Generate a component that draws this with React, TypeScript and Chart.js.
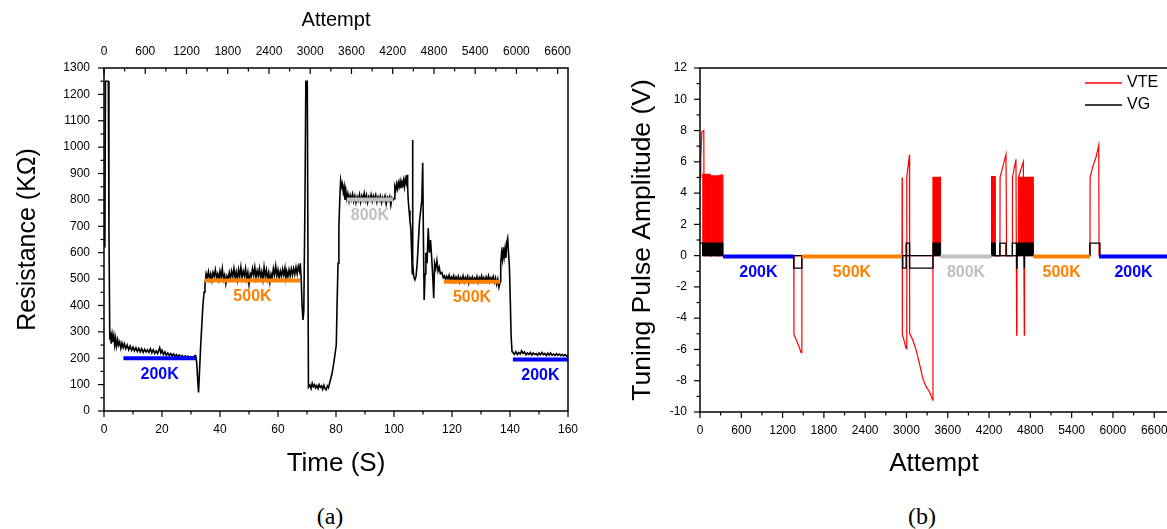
import React, { useEffect, useRef } from "react";
import { Chart, registerables } from "chart.js";

Chart.register(...registerables);

const SANS = "'Liberation Sans', Arial, Helvetica, sans-serif";
const SERIF = "'Liberation Serif', 'Times New Roman', serif";

// ---------------- Panel (a): resistance vs time ----------------
const timeResistance: [number, number][] = [
  [0.3, 620], [0.5, 1250], [1.5, 1250], [1.7, 700], [2.0, 270], [2.2, 300], [2.5, 255], [2.8, 290],
  [3.1, 262], [3.4, 285], [3.7, 250], [4.0, 275], [4.3, 245], [4.7, 270], [5.0, 250], [5.4, 262],
  [5.8, 238], [6.2, 258], [6.6, 240], [7.0, 255], [7.5, 236], [8.0, 250], [8.5, 232], [9.0, 246],
  [9.5, 230], [10, 242], [10.5, 228], [11, 240], [11.5, 226], [12, 238], [12.5, 224], [13, 236],
  [13.5, 222], [14, 234], [14.5, 224], [15, 232], [15.5, 222], [16, 236], [16.5, 220], [17, 232],
  [17.5, 218], [18, 228], [18.5, 218], [19.2, 240], [19.6, 220], [20, 230], [20.5, 214], [21, 224],
  [21.5, 212], [22, 220], [22.5, 210], [23, 218], [23.5, 209], [24, 216], [24.5, 207], [25, 214],
  [25.5, 206], [26, 212], [26.5, 205], [27, 210], [27.5, 204], [28, 209], [28.5, 203], [29, 208],
  [29.5, 202], [30, 206], [30.5, 202], [31, 206], [31.4, 210], [31.7, 205], [32.0, 180], [32.3, 120],
  [32.6, 70], [32.9, 140], [33.3, 240], [33.7, 320], [34.1, 400], [34.5, 450], [34.8, 475], [35.2, 520],
  [35.6, 505], [36.0, 528], [36.4, 500], [36.8, 520], [37.2, 495], [37.6, 525], [38.0, 510], [38.4, 535],
  [38.8, 505], [39.2, 520], [39.6, 498], [40.0, 530], [40.4, 506], [40.8, 540], [41.2, 498], [41.6, 515],
  [42.0, 482], [42.4, 512], [42.8, 500], [43.2, 525], [43.6, 502], [44.0, 530], [44.4, 510], [44.8, 540],
  [45.2, 505], [45.6, 528], [46.0, 498], [46.4, 535], [46.8, 510], [47.2, 545], [47.6, 505], [48.0, 530],
  [48.4, 512], [48.8, 540], [49.2, 500], [49.6, 525], [50.0, 480], [50.4, 520], [50.8, 510], [51.2, 540],
  [51.6, 515], [52.0, 545], [52.4, 505], [52.8, 532], [53.2, 512], [53.6, 540], [54.0, 505], [54.4, 528],
  [54.8, 498], [55.2, 545], [55.6, 510], [56.0, 535], [56.4, 500], [56.8, 525], [57.2, 488], [57.6, 520],
  [58.0, 505], [58.4, 540], [58.8, 515], [59.2, 550], [59.6, 512], [60.0, 535], [60.4, 505], [60.8, 530],
  [61.2, 510], [61.6, 538], [62.0, 515], [62.4, 542], [62.7, 505], [63.0, 530], [63.4, 508], [63.8, 535],
  [64.2, 512], [64.6, 538], [65.0, 515], [65.4, 540], [65.8, 518], [66.2, 545], [66.6, 520], [67.0, 548],
  [67.4, 530], [67.7, 560], [68.0, 500], [68.3, 400], [68.6, 345], [68.9, 380], [69.3, 800], [69.6, 1250],
  [70.1, 1250], [70.5, 90], [71.0, 98], [71.4, 85], [71.8, 105], [72.2, 92], [72.6, 100], [73.0, 88],
  [73.4, 96], [73.8, 85], [74.2, 100], [74.6, 90], [75.0, 95], [75.4, 82], [75.8, 98], [76.2, 85],
  [76.6, 80], [77.0, 95], [77.4, 88], [77.9, 110], [78.6, 140], [79.2, 180], [79.6, 210], [80.1, 250],
  [80.4, 420], [80.7, 560], [81.0, 700], [81.3, 800], [81.6, 875], [82.0, 850], [82.2, 860], [82.5, 830],
  [82.8, 850], [83.1, 800], [83.4, 835], [83.7, 805], [84.1, 825], [84.5, 795], [84.9, 818], [85.3, 800],
  [85.7, 822], [86.1, 795], [86.5, 815], [86.9, 790], [87.3, 812], [87.7, 798], [88.1, 820], [88.5, 792],
  [88.9, 815], [89.3, 800], [89.7, 825], [90.1, 798], [90.5, 818], [90.9, 790], [91.3, 812], [91.7, 800],
  [92.1, 820], [92.5, 795], [92.9, 815], [93.3, 800], [93.7, 818], [94.1, 792], [94.5, 812], [94.9, 798],
  [95.3, 815], [95.7, 790], [96.1, 810], [96.5, 798], [96.9, 815], [97.3, 785], [97.7, 810], [98.1, 798],
  [98.5, 812], [98.9, 780], [99.3, 808], [99.7, 800], [100.0, 805], [100.3, 850], [100.6, 838], [100.9, 860],
  [101.2, 842], [101.5, 865], [101.8, 850], [102.1, 870], [102.4, 845], [102.7, 868], [103.0, 855], [103.3, 875],
  [103.6, 850], [103.9, 880], [104.2, 865], [104.5, 895], [104.7, 850], [104.9, 800], [105.2, 760], [105.5, 720],
  [105.8, 690], [106.1, 600], [106.3, 520], [106.4, 1027], [106.5, 560], [106.8, 510], [107.2, 497], [107.6, 510],
  [108.0, 560], [108.4, 640], [108.8, 720], [109.2, 760], [109.6, 800], [109.9, 941], [110.2, 600], [110.4, 421],
  [110.7, 520], [111.0, 600], [111.4, 560], [111.8, 693], [112.2, 600], [112.6, 648], [113.0, 580], [113.4, 500],
  [113.7, 427], [114.0, 560], [114.4, 540], [114.8, 570], [115.2, 530], [115.6, 545], [116.0, 520], [116.5, 525],
  [117.0, 505], [117.4, 512], [117.8, 498], [118.2, 510], [118.6, 500], [119.0, 515], [119.4, 495], [119.8, 508],
  [120.2, 498], [120.6, 512], [121.0, 492], [121.4, 508], [121.8, 497], [122.2, 510], [122.6, 488], [123.0, 505],
  [123.4, 495], [123.8, 512], [124.2, 490], [124.6, 506], [125.0, 496], [125.4, 510], [125.8, 485], [126.2, 505],
  [126.6, 494], [127.0, 508], [127.4, 490], [127.8, 504], [128.2, 495], [128.6, 510], [129.0, 488], [129.4, 506],
  [129.8, 495], [130.2, 512], [130.6, 492], [131.0, 505], [131.4, 490], [131.8, 508], [132.2, 495], [132.6, 512],
  [133.0, 490], [133.4, 505], [133.8, 497], [134.2, 510], [134.6, 488], [135.0, 505], [135.4, 480], [135.8, 500],
  [136.2, 470], [136.6, 490], [136.8, 560], [137.1, 600], [137.4, 575], [137.7, 620], [138.0, 585], [138.3, 615],
  [138.6, 580], [138.9, 640], [139.2, 655], [139.5, 600], [139.8, 545], [140.1, 420], [140.4, 280], [140.7, 225],
  [141.0, 222], [141.5, 215], [142.0, 225], [142.5, 214], [143.0, 222], [143.5, 216], [144.0, 228], [144.5, 218],
  [145.0, 224], [145.5, 213], [146.0, 220], [146.5, 214], [147.0, 222], [147.5, 212], [148.0, 220], [148.5, 214],
  [149.0, 218], [149.5, 211], [150.0, 220], [150.5, 213], [151.0, 222], [151.5, 214], [152.0, 218], [152.5, 210],
  [153.0, 219], [153.5, 212], [154.0, 220], [154.5, 211], [155.0, 216], [155.5, 210], [156.0, 218], [156.5, 211],
  [157.0, 216], [157.5, 210], [158.0, 215], [158.5, 209], [159.0, 214], [159.5, 208], [160.0, 213],
];

const targetLevelsA = [
  { label: "200K", start: 6.7, end: 31.7, value: 200 },
  { label: "500K", start: 34.8, end: 67.6, value: 495 },
  { label: "800K", start: 83.7, end: 99.7, value: 802 },
  { label: "500K", start: 117.2, end: 136.6, value: 490 },
  { label: "200K", start: 141, end: 160, value: 195 },
];

const timeTickLabels = [0, 20, 40, 60, 80, 100, 120, 140, 160];
const attemptTickLabels = [0, 600, 1200, 1800, 2400, 3000, 3600, 4200, 4800, 5400, 6000, 6600];
const resistanceTickLabels = [0, 100, 200, 300, 400, 500, 600, 700, 800, 900, 1000, 1100, 1200, 1300];

// ---------------- Panel (b): tuning pulse amplitude vs attempt ----------------
const seriesNames = ["VTE", "VG"];

const vteTrace: [number, number][] = [
  [7, 5.0], [12, 6.2], [27, 7.9], [55, 8.0], [61, 0],
  [1363, 0], [1365, -5.05], [1420, -5.6], [1470, -6.2], [1480, 0],
  [2935, 0], [2937, 5.0], [2940, -5.05], [2957, -5.3], [2996, -5.95], [3005, 5.05], [3043, 6.45],
  [3046, -4.97], [3092, -5.4], [3140, -6.04], [3188, -6.89], [3237, -7.85], [3285, -8.38],
  [3334, -8.7], [3382, -9.24], [3385, 0],
  [4358, 0], [4360, 5.0], [4446, 6.47], [4455, 0],
  [4538, 0], [4540, 5.0], [4591, 6.16], [4601, -5.08], [4605, 0],
  [4625, 0], [4627, 5.0], [4698, 6.0], [4712, -5.08], [4716, 0],
  [5666, 0], [5668, 5.0], [5707, 5.69], [5756, 6.33], [5794, 7.07], [5798, 0],
  [6800, 0],
];
// dense pulse trains: [first attempt, last attempt, pulse amplitude]
const vtePulseTrains: [number, number, number][] = [
  [41, 148, 5.2], [162, 235, 5.1], [244, 283, 5.1], [293, 332, 5.15],
  [3385, 3494, 5.0], [4237, 4290, 5.05], [4645, 4695, 5.0], [4716, 4843, 5.0],
];

const vgTrace: [number, number][] = [
  [0, 0.8], [41, 0.8], [41, 0], [332, 0],
  [1363, 0], [1363, -0.8], [1480, -0.8], [1480, 0],
  [2946, 0], [2946, -0.8], [2995, -0.8], [2995, 0.8], [3045, 0.8], [3045, -0.8], [3385, -0.8], [3385, 0],
  [4290, 0], [4358, 0], [4358, 0.8], [4446, 0.8], [4446, 0], [4538, 0], [4538, 0.8], [4601, 0.8],
  [4601, -0.8], [4606, -0.8], [4606, 0], [4712, 0], [4712, -0.8], [4716, -0.8], [4716, 0],
  [5666, 0], [5666, 0.8], [5811, 0.8], [5811, 0], [6800, 0],
];
const vgPulseTrains: [number, number, number][] = [
  [41, 80, 0.8], [90, 148, 0.8], [162, 225, 0.8], [235, 273, 0.8], [283, 332, 0.8],
  [3385, 3494, 0.8], [4237, 4290, 0.8], [4606, 4712, 0.8], [4716, 4843, 0.8],
];

const targetLevelsB = [
  { label: "200K", start: 335, end: 1363, value: -0.05 },
  { label: "500K", start: 1480, end: 2937, value: -0.05 },
  { label: "800K", start: 3494, end: 4237, value: -0.05 },
  { label: "500K", start: 4843, end: 5666, value: -0.05 },
  { label: "200K", start: 5798, end: 6800, value: -0.05 },
];

const attemptTickLabelsB = [0, 600, 1200, 1800, 2400, 3000, 3600, 4200, 4800, 5400, 6000, 6600];
const amplitudeTickLabels = [-10, -8, -6, -4, -2, 0, 2, 4, 6, 8, 10, 12];

// ---------------- styling ----------------
const levelColors: Record<string, string> = { "200K": "#0000ff", "500K": "#ff8000", "800K": "#c0c0c0" };
const seriesColors = ["#ff0000", "#000000"];

const tickFont = { family: SANS, size: 12 };

type TickSpec = { axis: string; from: number; to: number; minor: number; major: number; side: string };

const frameTicksPlugin: any = {
  id: "frameTicks",
  afterDraw(chart: any, _a: any, opts: any) {
    const { ctx, chartArea: a } = chart;
    ctx.save();
    ctx.strokeStyle = "#000";
    ctx.lineWidth = 1.5;
    ctx.strokeRect(a.left, a.top, a.right - a.left, a.bottom - a.top);
    ctx.lineWidth = 1.2;
    for (const t of opts.specs as TickSpec[]) {
      const sc = chart.scales[t.axis];
      const n = Math.round((t.to - t.from) / t.minor);
      for (let i = 0; i <= n; i++) {
        const v = t.from + i * t.minor;
        const r = v / t.major;
        const isMajor = Math.abs(r - Math.round(r)) < 1e-6;
        const len = isMajor ? 6 : 3.5;
        const p = sc.getPixelForValue(v);
        ctx.beginPath();
        if (t.side === "left") {
          ctx.moveTo(a.left, p);
          ctx.lineTo(a.left - len, p);
        } else if (t.side === "bottom") {
          ctx.moveTo(p, a.bottom);
          ctx.lineTo(p, a.bottom + len);
        } else {
          ctx.moveTo(p, a.top);
          ctx.lineTo(p, a.top + len);
        }
        ctx.stroke();
      }
    }
    ctx.restore();
  },
};

const levelLabelPlugin: any = {
  id: "levelLabels",
  afterDatasetsDraw(chart: any, _a: any, opts: any) {
    const { ctx } = chart;
    const xs = chart.scales.x;
    const ys = chart.scales.y;
    ctx.save();
    ctx.font = `bold 16px ${SANS}`;
    ctx.textAlign = "center";
    ctx.textBaseline = "middle";
    for (const r of opts.levels) {
      const x = xs.getPixelForValue((r.start + r.end) / 2);
      const y = ys.getPixelForValue(r.value) + opts.offset;
      ctx.fillStyle = levelColors[r.label];
      ctx.fillText(r.label, x, y);
    }
    ctx.restore();
  },
};

const miniLegendPlugin: any = {
  id: "miniLegend",
  afterDraw(chart: any, _a: any, opts: any) {
    if (!opts.show) return;
    const { ctx, chartArea: a } = chart;
    ctx.save();
    ctx.font = `16px ${SANS}`;
    ctx.textBaseline = "middle";
    ctx.textAlign = "left";
    chart.data.datasets
      .filter((d: any) => d.inLegend)
      .forEach((d: any, i: number) => {
        const y = a.top + 15 + i * 22;
        ctx.strokeStyle = d.borderColor;
        ctx.lineWidth = 1.3;
        ctx.beginPath();
        ctx.moveTo(a.right - 83, y);
        ctx.lineTo(a.right - 46, y);
        ctx.stroke();
        ctx.fillStyle = "#000";
        ctx.fillText(d.label, a.right - 41, y);
      });
    ctx.restore();
  },
};

const pts = (arr: [number, number][]) => arr.map(([x, y]) => ({ x, y }));
const trainPts = (arr: [number, number, number][]) =>
  arr.flatMap(([s, e, h]) => [
    { x: s, y: 0 },
    { x: s, y: h },
    { x: e, y: h },
    { x: e, y: 0 },
  ]);
const levelDatasets = (levels: any[]) =>
  levels.map((r) => ({
    label: r.label,
    data: [
      { x: r.start, y: r.value },
      { x: r.end, y: r.value },
    ],
    borderColor: levelColors[r.label],
    borderWidth: 4,
    borderCapStyle: "butt",
    pointRadius: 0,
    fill: false,
    order: 0,
  }));

const setTicks = (values: number[]) => (s: any) => {
  s.ticks = values.map((v) => ({ value: v }));
};

const hiddenGrid = { display: false, drawTicks: false };

function configA(): any {
  return {
    type: "line",
    data: {
      datasets: [
        ...levelDatasets(targetLevelsA),
        {
          label: "Resistance",
          data: pts(timeResistance),
          borderColor: "#000",
          borderWidth: 1.6,
          pointRadius: 0,
          fill: false,
          order: 1,
        },
      ],
    },
    options: {
      responsive: false,
      animation: false,
      events: [],
      layout: { padding: { top: 0, right: 22, bottom: 0, left: 0 } },
      plugins: {
        legend: { display: false },
        tooltip: { enabled: false },
        frameTicks: {
          specs: [
            { axis: "y", from: 0, to: 1300, minor: 50, major: 100, side: "left" },
            { axis: "x", from: 0, to: 160, minor: 10, major: 20, side: "bottom" },
            { axis: "x2", from: 0, to: 6600, minor: 300, major: 600, side: "topIn" },
          ],
        },
        levelLabels: { levels: targetLevelsA, offset: 16 },
        miniLegend: { show: false },
      },
      scales: {
        x: {
          type: "linear",
          position: "bottom",
          min: 0,
          max: 160,
          grid: hiddenGrid,
          border: { display: false },
          afterBuildTicks: setTicks(timeTickLabels),
          ticks: { padding: 11, font: tickFont, color: "#000", maxRotation: 0, autoSkip: false, callback: (v: any) => String(v) },
          title: { display: true, text: "Time (S)", color: "#000", font: { family: SANS, size: 26 }, padding: { top: 0, bottom: 11 } },
          afterFit: (s: any) => { s.height = 79; },
        },
        x2: {
          type: "linear",
          position: "top",
          min: 0,
          max: 6750,
          grid: hiddenGrid,
          border: { display: false },
          afterBuildTicks: setTicks(attemptTickLabels),
          ticks: { padding: 9, font: tickFont, color: "#000", maxRotation: 0, autoSkip: false, callback: (v: any) => String(v) },
          title: { display: true, text: "Attempt", color: "#000", font: { family: SANS, size: 20 }, padding: { top: 8, bottom: 0 } },
          afterFit: (s: any) => { s.height = 68; },
        },
        y: {
          type: "linear",
          position: "left",
          min: 0,
          max: 1300,
          grid: hiddenGrid,
          border: { display: false },
          afterBuildTicks: setTicks(resistanceTickLabels),
          ticks: { padding: 14, font: tickFont, color: "#000", autoSkip: false, callback: (v: any) => String(v) },
          title: { display: true, text: "Resistance (KΩ)", color: "#000", font: { family: SANS, size: 25 }, padding: { top: 13, bottom: 0 } },
          afterFit: (s: any) => { s.width = 104; },
        },
      },
    },
    plugins: [frameTicksPlugin, levelLabelPlugin, miniLegendPlugin],
  };
}

function configB(): any {
  return {
    type: "line",
    data: {
      datasets: [
        ...levelDatasets(targetLevelsB),
        {
          label: seriesNames[0],
          inLegend: true,
          data: pts(vteTrace),
          borderColor: seriesColors[0],
          borderWidth: 1.2,
          pointRadius: 0,
          fill: false,
          order: 3,
        },
        {
          label: seriesNames[1],
          inLegend: true,
          data: pts(vgTrace),
          borderColor: seriesColors[1],
          borderWidth: 1.4,
          pointRadius: 0,
          fill: false,
          order: 1,
        },
        {
          label: seriesNames[0] + " pulses",
          data: trainPts(vtePulseTrains),
          borderColor: seriesColors[0],
          backgroundColor: seriesColors[0],
          borderWidth: 1.2,
          pointRadius: 0,
          fill: "origin",
          order: 4,
        },
        {
          label: seriesNames[1] + " pulses",
          data: trainPts(vgPulseTrains),
          borderColor: seriesColors[1],
          backgroundColor: seriesColors[1],
          borderWidth: 1.2,
          pointRadius: 0,
          fill: "origin",
          order: 2,
        },
      ],
    },
    options: {
      responsive: false,
      animation: false,
      events: [],
      layout: { padding: { top: 68, right: 32, bottom: 0, left: 0 } },
      plugins: {
        legend: { display: false },
        tooltip: { enabled: false },
        frameTicks: {
          specs: [
            { axis: "y", from: -10, to: 12, minor: 1, major: 2, side: "left" },
            { axis: "x", from: 0, to: 6600, minor: 300, major: 600, side: "bottom" },
          ],
        },
        levelLabels: { levels: targetLevelsB, offset: 16 },
        miniLegend: { show: true },
      },
      scales: {
        x: {
          type: "linear",
          position: "bottom",
          min: 0,
          max: 6800,
          grid: hiddenGrid,
          border: { display: false },
          afterBuildTicks: setTicks(attemptTickLabelsB),
          ticks: { padding: 11, font: tickFont, color: "#000", maxRotation: 0, autoSkip: false, callback: (v: any) => String(v) },
          title: { display: true, text: "Attempt", color: "#000", font: { family: SANS, size: 26 }, padding: { top: 0, bottom: 11 } },
          afterFit: (s: any) => { s.height = 78; },
        },
        y: {
          type: "linear",
          position: "left",
          min: -10,
          max: 12,
          grid: hiddenGrid,
          border: { display: false },
          afterBuildTicks: setTicks(amplitudeTickLabels),
          ticks: { padding: 13, font: tickFont, color: "#000", autoSkip: false, callback: (v: any) => String(v) },
          title: { display: true, text: "Tuning Pulse Amplitude (V)", color: "#000", font: { family: SANS, size: 26.5 }, padding: { top: 27, bottom: 0 } },
          afterFit: (s: any) => { s.width = 100; },
        },
      },
    },
    plugins: [frameTicksPlugin, levelLabelPlugin, miniLegendPlugin],
  };
}

const captionStyle = (cx: number): React.CSSProperties => ({
  position: "absolute",
  left: cx - 50,
  top: 501,
  width: 100,
  height: 30,
  lineHeight: "30px",
  textAlign: "center",
  fontFamily: SERIF,
  fontSize: 24,
  color: "#000",
});

export default function App() {
  const aRef = useRef<HTMLCanvasElement>(null);
  const bRef = useRef<HTMLCanvasElement>(null);

  useEffect(() => {
    const ca = new Chart(aRef.current as HTMLCanvasElement, configA());
    const cb = new Chart(bRef.current as HTMLCanvasElement, configB());
    return () => {
      ca.destroy();
      cb.destroy();
    };
  }, []);

  return (
    <div
      style={{
        position: "fixed",
        left: 0,
        top: 0,
        width: 1167,
        height: 529,
        overflow: "hidden",
        background: "#fff",
      }}
    >
      <canvas ref={aRef} width={590} height={490} style={{ position: "absolute", left: 0, top: 0 }} />
      <canvas ref={bRef} width={600} height={490} style={{ position: "absolute", left: 600, top: 0 }} />
      <div style={captionStyle(330)}>(a)</div>
      <div style={captionStyle(922)}>(b)</div>
    </div>
  );
}
